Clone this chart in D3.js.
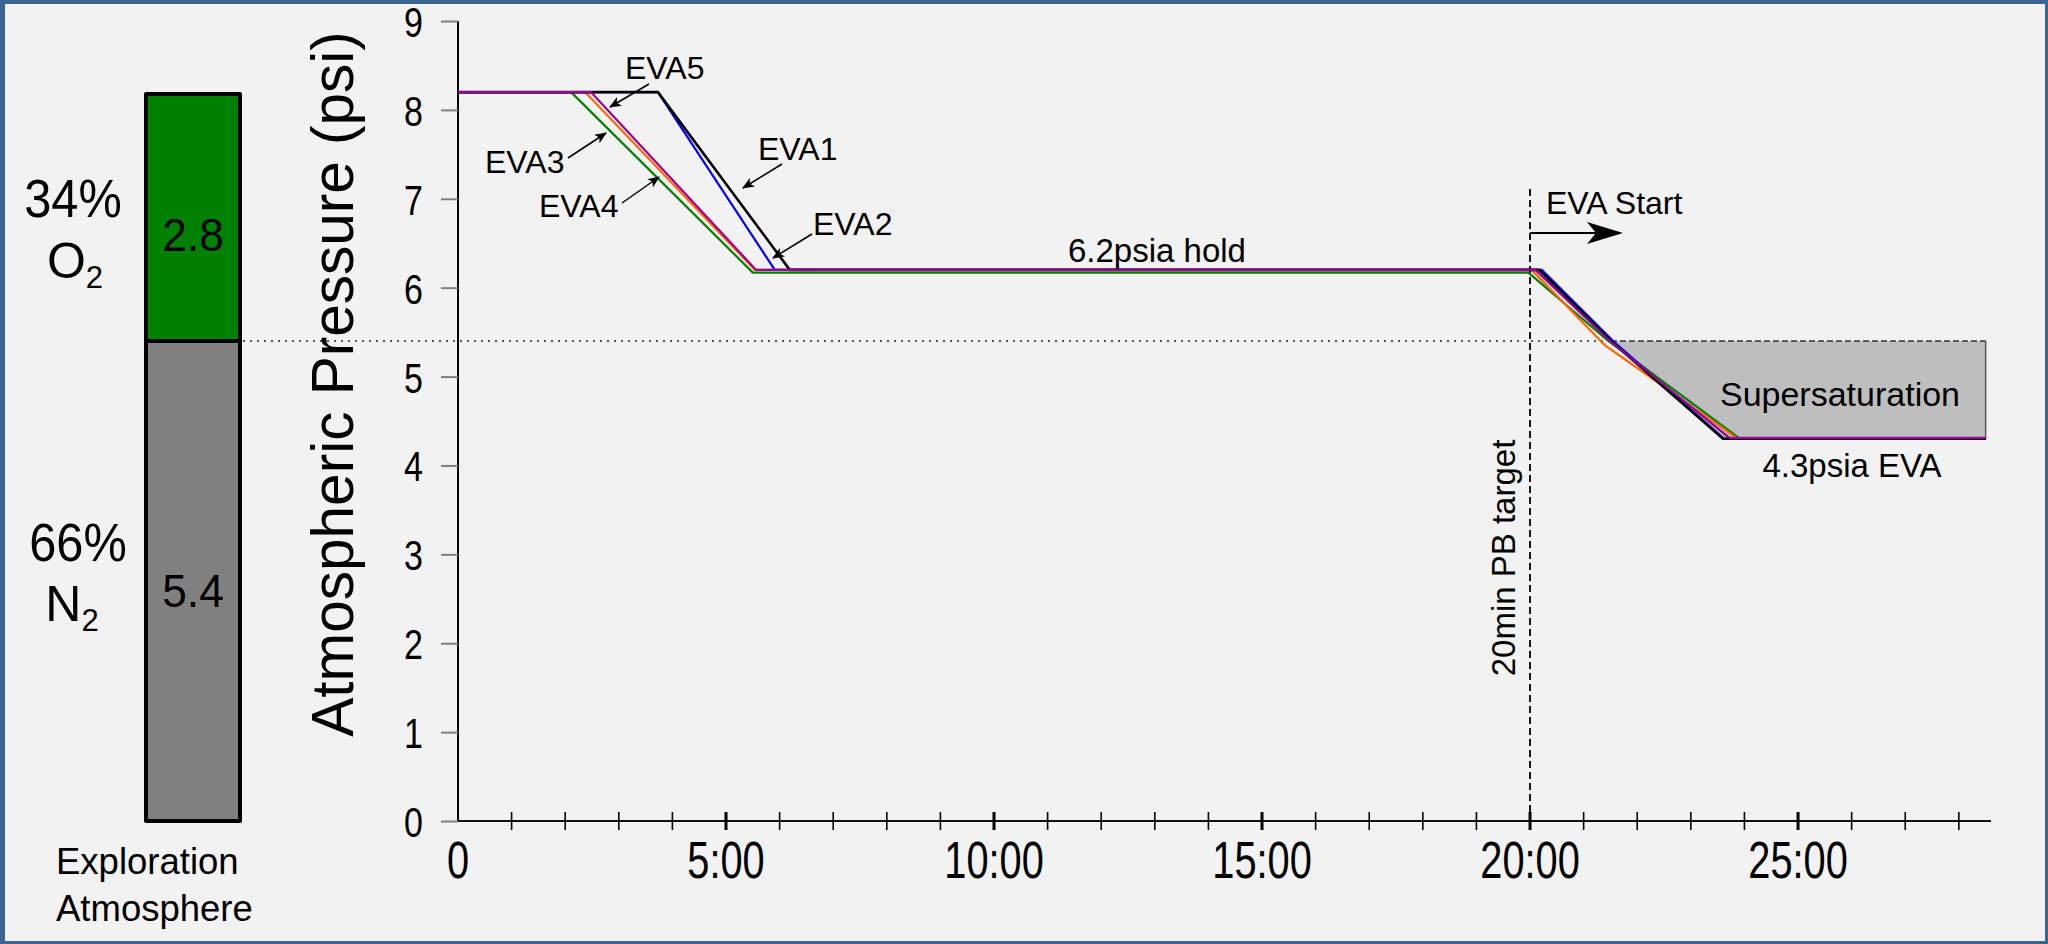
<!DOCTYPE html>
<html>
<head>
<meta charset="utf-8">
<script src="https://cdn.jsdelivr.net/npm/d3@7"></script>
<style>
  html, body { margin: 0; padding: 0; background: #f2f2f2; }
  svg { display: block; }
  text { font-family: "Liberation Sans", Arial, sans-serif; fill: #000; }
</style>
</head>
<body>
<svg id="chart" width="2048" height="944"></svg>
<script>
// ---- data -------------------------------------------------------------
// cabin pressure profiles (time in minutes, pressure in psia)
const seriesNames  = ["EVA4", "EVA3", "EVA2", "EVA1", "EVA5"];
const seriesColors = ["#008000", "#ff6600", "#0000ff", "#000000", "#990099"];

const eva1Time = [0, 3.73, 6.19, 20.17, 21.51, 23.60, 28.5];
const eva1Psi  = [8.2, 8.2, 6.2, 6.2, 5.4, 4.3, 4.3];
const eva2Time = [0, 3.73, 5.91, 20.22, 21.55, 23.62, 28.5];
const eva2Psi  = [8.2, 8.2, 6.2, 6.2, 5.4, 4.3, 4.3];
const eva3Time = [0, 2.37, 5.54, 20.03, 21.40, 23.88, 28.5];
const eva3Psi  = [8.2, 8.2, 6.2, 6.2, 5.35, 4.3, 4.3];
const eva4Time = [0, 2.11, 5.50, 19.97, 21.46, 23.92, 28.5];
const eva4Psi  = [8.2, 8.2, 6.17, 6.17, 5.4, 4.3, 4.3];
const eva5Time = [0, 2.48, 5.56, 20.10, 21.49, 23.72, 28.5];
const eva5Psi  = [8.2, 8.2, 6.2, 6.2, 5.4, 4.31, 4.31];

// exploration atmosphere partial pressures
const gasNames = ["N2", "O2"];
const gasPsi   = [5.4, 2.8];
const gasPct   = [66, 34];

// axis ticks
const yTicks       = [0, 1, 2, 3, 4, 5, 6, 7, 8, 9];
const xMajorTicks  = [0, 5, 10, 15, 20, 25];
const xTickLabels  = ["0", "5:00", "10:00", "15:00", "20:00", "25:00"];
const xMinorTicks  = d3.range(1, 29);

const prebreatheTarget = 20;   // min
const holdPsi = 6.2;
const evaPsi  = 4.3;

// ---- layout -------------------------------------------------------------
const svg = d3.select("#chart");
const W = 2048, H = 944;
const FONT = '"Liberation Sans", Arial, sans-serif';

const x = d3.scaleLinear().domain([0, 28.6]).range([458, 1991]);
const y = d3.scaleLinear().domain([0, 9]).range([821, 21]);

// frame
svg.append("rect").attr("x", 0).attr("y", 0).attr("width", W).attr("height", H).attr("fill", "#3c6493");
svg.append("rect").attr("x", 5).attr("y", 4).attr("width", W - 8).attr("height", H - 7).attr("fill", "#f2f2f2");

// narrow text helper (condensed face imitation)
function narrowText(g, str, tx, ty, size, sx, anchor) {
  return g.append("text")
    .attr("transform", `translate(${tx},${ty}) scale(${sx},1)`)
    .attr("text-anchor", anchor || "middle")
    .attr("font-size", size)
    .text(str);
}

// ---- exploration atmosphere bar --------------------------------------
const barG = svg.append("g");
let base = 0;
const stack = gasNames.map((n, i) => {
  const s = { name: n, psi: gasPsi[i], pct: gasPct[i], y0: base, y1: base + gasPsi[i] };
  base += gasPsi[i];
  return s;
});
const barColor = { N2: "#808080", O2: "#008000" };
barG.selectAll("rect.gas").data(stack).enter().append("rect")
  .attr("class", "gas")
  .attr("x", 146).attr("width", 94)
  .attr("y", d => y(d.y1) + (d.name === "O2" ? 2 : 0))
  .attr("height", d => y(d.y0) - y(d.y1) - (d.name === "O2" ? 2 : 0))
  .attr("fill", d => barColor[d.name])
  .attr("stroke", "#000").attr("stroke-width", 4)
  .attr("stroke-linejoin", "round");

// values inside the bar
const o2 = stack[1], n2 = stack[0];
narrowText(barG, o2.psi.toFixed(1), 193, 251, 47, 0.94);
narrowText(barG, n2.psi.toFixed(1), 193, 607, 47, 0.94);

// percent / gas labels
narrowText(barG, o2.pct + "%", 73, 217, 53, 0.92);
const o2Lab = barG.append("text").attr("x", 75).attr("y", 278)
  .attr("text-anchor", "middle").attr("font-size", 50);
o2Lab.append("tspan").text("O");
o2Lab.append("tspan").attr("font-size", 31).attr("dy", 10).text("2");

narrowText(barG, n2.pct + "%", 78, 561, 53, 0.92);
const n2Lab = barG.append("text").attr("x", 72).attr("y", 621)
  .attr("text-anchor", "middle").attr("font-size", 50);
n2Lab.append("tspan").text("N");
n2Lab.append("tspan").attr("font-size", 31).attr("dy", 10).text("2");

barG.append("text").attr("x", 56).attr("y", 874).attr("font-size", 36.5).text("Exploration");
barG.append("text").attr("x", 56).attr("y", 921).attr("font-size", 36.5).text("Atmosphere");

// ---- supersaturation region ------------------------------------------
const n2Psi = gasPsi[0];
function crossTime(ts, ps, p) {
  for (let i = 1; i < ts.length; i++) {
    const a = ps[i - 1], b = ps[i];
    if ((a - p) * (b - p) <= 0 && a !== b) {
      return ts[i - 1] + (a - p) / (a - b) * (ts[i] - ts[i - 1]);
    }
  }
  return ts[0];
}
const tCross = crossTime(eva1Time, eva1Psi, n2Psi);
const tEnd = eva1Time[eva1Time.length - 1];
const tEvaStart = eva1Time[5];

// dotted N2 partial-pressure reference line
svg.append("line")
  .attr("x1", 243).attr("x2", x(tCross))
  .attr("y1", y(n2Psi)).attr("y2", y(n2Psi))
  .attr("stroke", "#222").attr("stroke-width", 1.6)
  .attr("stroke-dasharray", "2,5");

const superPoly = [[tCross, n2Psi], [tEnd, n2Psi], [tEnd, evaPsi], [tEvaStart, evaPsi]];
svg.append("path")
  .attr("d", d3.line().x(d => x(d[0])).y(d => y(d[1]))(superPoly) + "Z")
  .attr("fill", "#bebebe");
svg.append("line")
  .attr("x1", x(tCross)).attr("x2", x(tEnd))
  .attr("y1", y(n2Psi)).attr("y2", y(n2Psi))
  .attr("stroke", "#333").attr("stroke-width", 1.6)
  .attr("stroke-dasharray", "6,3");
svg.append("line")
  .attr("x1", x(tEnd)).attr("x2", x(tEnd))
  .attr("y1", y(n2Psi)).attr("y2", y(evaPsi))
  .attr("stroke", "#555").attr("stroke-width", 1.5);

// ---- axes ---------------------------------------------------------------
// y axis
const yAxis = svg.append("g").attr("transform", `translate(${x(0)},0)`)
  .call(d3.axisLeft(y).tickValues(yTicks).tickSize(17).tickFormat(d3.format("d")));
yAxis.select(".domain").attr("d", `M0,${y(0)}V${y(9)}`).attr("stroke", "#000").attr("stroke-width", 2);
yAxis.selectAll(".tick line").attr("stroke", "#808080").attr("stroke-width", 2);
yAxis.selectAll(".tick text")
  .attr("font-family", FONT).attr("font-size", 42).attr("fill", "#000")
  .attr("x", -35 / 0.81).attr("dy", 15.5)
  .attr("transform", "scale(0.81,1)");

// x axis
const xAxis = svg.append("g").attr("transform", `translate(0,${y(0)})`);
xAxis.append("line").attr("x1", x(0)).attr("x2", x(28.6)).attr("y1", 0).attr("y2", 0)
  .attr("stroke", "#111").attr("stroke-width", 2);
xAxis.selectAll("line.minor").data(xMinorTicks).enter().append("line")
  .attr("class", "minor")
  .attr("x1", d => x(d)).attr("x2", d => x(d))
  .attr("y1", -9).attr("y2", 9)
  .attr("stroke", "#000")
  .attr("stroke-width", d => (d % 5 === 0 ? 3 : 1.6));
xAxis.selectAll("g.lab").data(xMajorTicks).enter().append("g")
  .attr("class", "lab")
  .attr("transform", d => `translate(${x(d)},57)`)
  .append("text")
  .attr("text-anchor", "middle").attr("font-size", 51)
  .attr("transform", "scale(0.78,1)")
  .text((d, i) => xTickLabels[i]);

// axis title
svg.append("text")
  .attr("transform", `translate(353,384) rotate(-90)`)
  .attr("text-anchor", "middle").attr("font-size", 58.5)
  .text("Atmospheric Pressure (psi)");

// ---- prebreathe target marker ------------------------------------------
svg.append("line")
  .attr("x1", x(prebreatheTarget)).attr("x2", x(prebreatheTarget))
  .attr("y1", 189).attr("y2", y(0))
  .attr("stroke", "#000").attr("stroke-width", 1.8)
  .attr("stroke-dasharray", "7,4");
svg.append("text")
  .attr("transform", `translate(${x(prebreatheTarget) - 15},558) rotate(-90)`)
  .attr("text-anchor", "middle").attr("font-size", 33)
  .text("20min PB target");

// ---- pressure profiles ------------------------------------------------
const seriesData = {
  EVA1: [eva1Time, eva1Psi],
  EVA2: [eva2Time, eva2Psi],
  EVA3: [eva3Time, eva3Psi],
  EVA4: [eva4Time, eva4Psi],
  EVA5: [eva5Time, eva5Psi]
};
const line = d3.line().x(d => x(d[0])).y(d => y(d[1]));
svg.append("g").selectAll("path").data(seriesNames).enter().append("path")
  .attr("d", n => line(d3.zip(seriesData[n][0], seriesData[n][1])))
  .attr("fill", "none")
  .attr("stroke", (n, i) => seriesColors[i])
  .attr("stroke-width", n => (n === "EVA1" ? 2.6 : 2.2))
  .attr("stroke-linejoin", "miter");

// ---- annotations ----------------------------------------------------------
const defs = svg.append("defs");
defs.append("marker").attr("id", "ah")
  .attr("viewBox", "0 0 12 10").attr("refX", 11).attr("refY", 5)
  .attr("markerWidth", 12).attr("markerHeight", 10)
  .attr("markerUnits", "userSpaceOnUse").attr("orient", "auto")
  .append("path").attr("d", "M0,0 L12,5 L0,10 L3,5 Z").attr("fill", "#000");

const labels = [
  { t: "EVA5", lx: 625, ly: 79,  a: [649, 84, 610, 107] },
  { t: "EVA3", lx: 485, ly: 173, a: [568, 158, 606, 133] },
  { t: "EVA4", lx: 539, ly: 217, a: [622, 203, 659, 177] },
  { t: "EVA1", lx: 758, ly: 160, a: [782, 164, 743, 188] },
  { t: "EVA2", lx: 813, ly: 235, a: [812, 234, 773, 258] }
];
const annG = svg.append("g");
labels.forEach(l => {
  annG.append("text").attr("x", l.lx).attr("y", l.ly).attr("font-size", 32).text(l.t);
  annG.append("line")
    .attr("x1", l.a[0]).attr("y1", l.a[1]).attr("x2", l.a[2]).attr("y2", l.a[3])
    .attr("stroke", "#000").attr("stroke-width", 1.5)
    .attr("marker-end", "url(#ah)");
});

// EVA start arrow
annG.append("text").attr("x", 1546).attr("y", 214).attr("font-size", 32).text("EVA Start");
annG.append("line")
  .attr("x1", x(prebreatheTarget)).attr("x2", 1600).attr("y1", 233).attr("y2", 233)
  .attr("stroke", "#000").attr("stroke-width", 2.2);
annG.append("path")
  .attr("d", "M1623,233 L1587,222 L1596,233 L1587,244 Z")
  .attr("fill", "#000");

annG.append("text").attr("x", 1157).attr("y", 262).attr("text-anchor", "middle")
  .attr("font-size", 33).text(holdPsi.toFixed(1) + "psia hold");
annG.append("text").attr("x", 1840).attr("y", 406).attr("text-anchor", "middle")
  .attr("font-size", 34).text("Supersaturation");
annG.append("text").attr("x", 1852).attr("y", 477).attr("text-anchor", "middle")
  .attr("font-size", 33).text(evaPsi.toFixed(1) + "psia EVA");
</script>
</body>
</html>
